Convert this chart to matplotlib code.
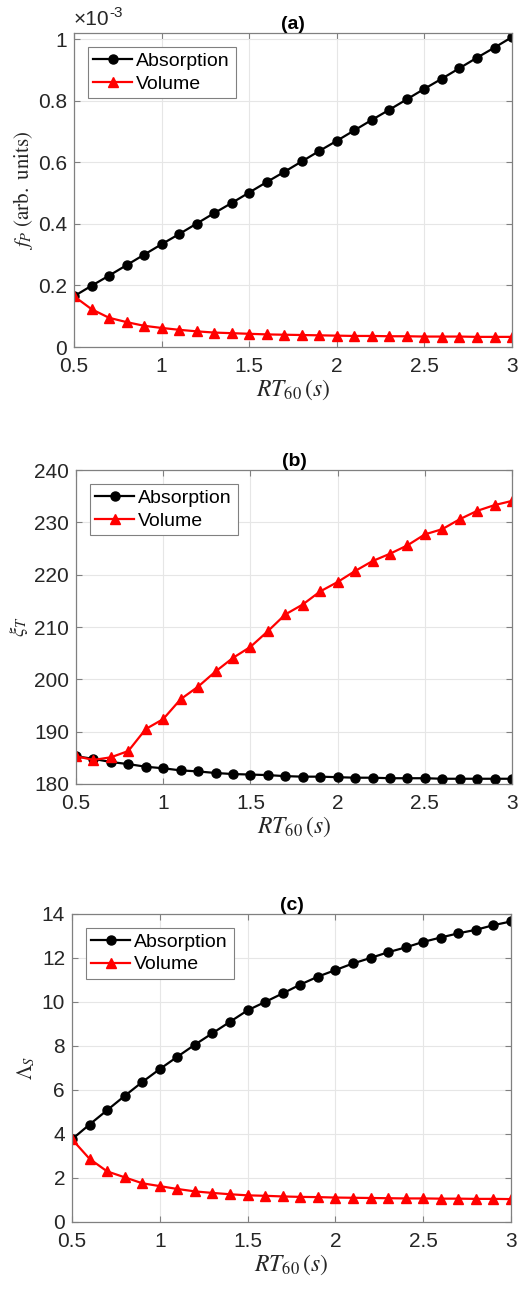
import matplotlib
matplotlib.use("Agg")
import matplotlib.pyplot as plt
from matplotlib.ticker import FuncFormatter, MultipleLocator

plt.rcParams['font.family'] = ['Liberation Sans', 'DejaVu Sans']
plt.rcParams['mathtext.fontset'] = 'stix'

# ---- data ----
rt60 = [0.5, 0.6, 0.7, 0.8, 0.9, 1.0, 1.1, 1.2, 1.3, 1.4, 1.5, 1.6, 1.7,
        1.8, 1.9, 2.0, 2.1, 2.2, 2.3, 2.4, 2.5, 2.6, 2.7, 2.8, 2.9, 3.0]

# (a) f_P, in units of 1e-3
fp_absorption = [0.165, 0.199, 0.232, 0.266, 0.300, 0.334, 0.367, 0.401, 0.435,
                 0.468, 0.502, 0.536, 0.569, 0.603, 0.637, 0.670, 0.704, 0.738,
                 0.771, 0.805, 0.839, 0.872, 0.906, 0.940, 0.973, 1.007]
fp_volume = [0.165, 0.123, 0.095, 0.081, 0.069, 0.062, 0.056, 0.051, 0.047,
             0.045, 0.043, 0.041, 0.040, 0.039, 0.038, 0.037, 0.036, 0.036,
             0.035, 0.035, 0.034, 0.034, 0.034, 0.033, 0.033, 0.033]

# (b) xi_T
xi_absorption = [185.3, 184.8, 184.2, 183.8, 183.3, 183.0, 182.6, 182.4, 182.1,
                 181.9, 181.8, 181.7, 181.5, 181.4, 181.4, 181.3, 181.2, 181.2,
                 181.1, 181.1, 181.1, 181.0, 181.0, 181.0, 181.0, 181.0]
xi_volume = [185.3, 184.6, 185.1, 186.3, 190.5, 192.4, 196.2, 198.6, 201.5,
             204.1, 206.2, 209.2, 212.4, 214.3, 216.8, 218.6, 220.7, 222.6,
             224.0, 225.6, 227.7, 228.7, 230.6, 232.2, 233.3, 234.1]

# (c) Lambda_S
lam_absorption = [3.76, 4.43, 5.08, 5.73, 6.36, 6.95, 7.51, 8.06, 8.58, 9.10,
                  9.62, 10.00, 10.39, 10.79, 11.15, 11.45, 11.75, 12.00, 12.26,
                  12.48, 12.73, 12.93, 13.12, 13.28, 13.49, 13.66]
lam_volume = [3.76, 2.87, 2.30, 2.03, 1.76, 1.63, 1.50, 1.39, 1.32, 1.26,
              1.21, 1.19, 1.16, 1.14, 1.13, 1.11, 1.10, 1.09, 1.08, 1.07,
              1.07, 1.06, 1.06, 1.05, 1.05, 1.04]

panels = [
    ("(a)", fp_absorption, fp_volume, r'$f_P\ \mathrm{(arb.\ units)}$', (0, 1.02), 0.2, -0.088),
    ("(b)", xi_absorption, xi_volume, r'$\xi_T$', (180, 240), 10, -0.105),
    ("(c)", lam_absorption, lam_volume, r'$\Lambda_S$', (0, 14), 2, -0.08),
]

# axes boxes in figure fractions (left, bottom, width, height)
boxes = [
    (0.1426, 0.7314, 0.8440, 0.2430),
    (0.1464, 0.3932, 0.8402, 0.2430),
    (0.1387, 0.0542, 0.8459, 0.2384),
]

textc = "#262626"
axc = "#808080"
gfmt = FuncFormatter(lambda v, p: f"{v:g}")

fig = plt.figure(figsize=(5.19, 12.92), dpi=100)

for (title, absd, vold, ylab, ylim, ystep, ylx), box in zip(panels, boxes):
    ax = fig.add_axes(box)
    ax.plot(rt60, absd, '-o', color='black', lw=1.6, ms=6.5, label='Absorption')
    ax.plot(rt60, vold, '-^', color='red', lw=1.6, ms=6.5, label='Volume')
    ax.set_xlim(0.5, 3)
    ax.set_ylim(*ylim)
    ax.xaxis.set_major_locator(MultipleLocator(0.5))
    ax.yaxis.set_major_locator(MultipleLocator(ystep))
    ax.xaxis.set_major_formatter(gfmt)
    ax.yaxis.set_major_formatter(gfmt)
    ax.grid(True, color='#e6e6e6', lw=0.8)
    ax.set_axisbelow(True)
    for s in ax.spines.values():
        s.set_color(axc)
        s.set_linewidth(0.9)
    ax.tick_params(direction='in', length=4, width=0.8, color=axc,
                   labelsize=15, labelcolor=textc, top=True, right=True)
    ax.tick_params(axis='x', pad=7)
    ax.tick_params(axis='y', pad=5)
    ax.set_title(title, fontsize=14, fontweight='bold', color='black', pad=3)
    ax.set_xlabel(r'$RT_{60}\,(s)$', fontsize=17, color=textc, labelpad=1)
    ax.set_ylabel(ylab, fontsize=15, color=textc)
    ax.yaxis.set_label_coords(ylx, 0.5)
    leg = ax.legend(loc='upper left', fontsize=14, fancybox=False,
                    framealpha=1, edgecolor=axc, handlelength=2.0,
                    handletextpad=0.2, borderpad=0.3, labelspacing=0.25,
                    borderaxespad=0.7)
    leg.get_frame().set_linewidth(0.8)
    if title == "(a)":
        t1 = ax.text(0.0, 1.012, '×10', transform=ax.transAxes,
                     fontsize=15, color=textc, ha='left', va='bottom')
        ax.annotate('-3', xy=(1.0, 0.85), xycoords=t1, fontsize=11,
                    color=textc, ha='left', va='center')

fig.savefig("out.png", dpi=100)
